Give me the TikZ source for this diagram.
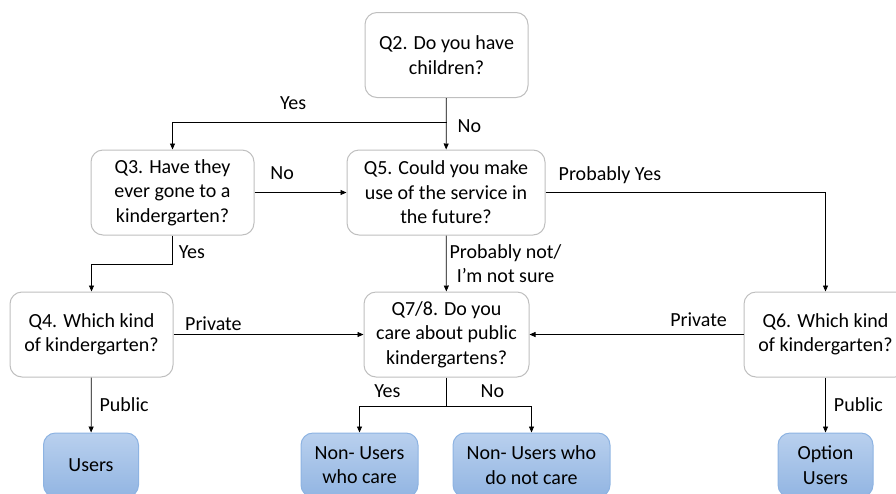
\documentclass[tikz,border=0pt]{standalone}
\usepackage{fontspec}
\setmainfont{Carlito}
\usepackage{xcolor}
\usetikzlibrary{arrows.meta, calc}

\definecolor{boxgray}{HTML}{BFBFBF}
\definecolor{bluetop}{HTML}{B9D0EE}
\definecolor{bluebot}{HTML}{92B5E2}
\definecolor{blueline}{HTML}{8DB3E2}

\begin{document}
\begin{tikzpicture}[x=1pt, y=-1pt,
		every node/.style = {font = \fontsize{20}{24.5}\selectfont, inner sep = 3pt},
		qbox/.style = {draw = boxgray, line width = 1pt, rounded corners = 12pt, align = center, minimum height = 85pt},
		endbox/.style = {draw = blueline, line width = 1pt, top color = bluetop, bottom color = bluebot, rounded corners = 12pt, align = center, minimum height = 64pt},
		arr/.style = {line width = 0.8pt, -{Triangle[length = 6pt, width = 5pt]}},
		ln/.style = {line width = 0.8pt}]
		\def\W{163};
		
		\clip (0,0) rectangle (896,493);
		
		\node [qbox, minimum width = \W] (q2) at (446.5,55) {Q2. Do you have\\children?};
		\node [qbox, minimum width = \W] (q3) at (172.5,192.5) {Q3. Have they\\ever gone to a\\kindergarten?};
		\node [qbox, minimum width = 198] (q5) at (446,192.5) {Q5. Could you make\\use of the service in\\the future?};
		\node [qbox, minimum width = \W] (q4) at (91.5,334.5) {Q4. Which kind\\of kindergarten?};
		\node [qbox, minimum width = 165] (q7) at (446.5,334.5) {Q7/8. Do you\\care about public\\kindergartens?};
		\node [qbox, minimum width = \W] (q6) at (825.5,334.5) {Q6. Which kind\\of kindergarten?};
		
		\node [endbox, minimum width = 95] (users) at (91,465) {Users};
		\node [endbox, minimum width = 117] (care) at (359.5,465) {Non- Users\\who care};
		\node [endbox, minimum width = 157] (nocare) at (531.5,465) {Non- Users who\\do not care};
		\node [endbox, minimum width = 95] (option) at (825.5,465) {Option\\Users};
		
		\coordinate (s1) at ($(q2.south) + (0,24)$);
		\coordinate (s2) at ($(q7.south) + (0,29)$);
		
		\draw [arr] (q2) -- (q5) node [midway, right = 8pt, yshift = -2pt] {No};
		\draw [arr] (s1) -| (q3) node [pos = 0.28, above = 9pt] {Yes};
		\draw [arr] (q3) -- (q5) node [pos = 0.3, above = 9pt] {No};
		\draw [arr] (q3.south) -- ++(0,29) node [midway, right = 3pt, yshift = -2pt] {Yes} -| (q4.north);
		\draw [arr] (q5) -- (q7) node [midway, right, align = center] {Probably not/\\I’m not sure};
		\draw [arr] (q5) -| (q6) node [pos = 0.115, above = 5pt] {Probably Yes};
		\draw [arr] (q4) -- (q7) node [pos = 0.21, above] {Private};
		\draw [arr] (q6) -- (q7) node [pos = 0.21, above = 4pt] {Private};
		\draw [arr] (q4) -- (users) node [midway, right = 5pt] {Public};
		\draw [arr] (q6) -- (option) node [midway, right = 5pt] {Public};
		\draw [ln] (q7) -- (s2);
		\draw [arr] (s2) -| (care) node [pos = 0.34, above = 5pt] {Yes};
		\draw [arr] (s2) -| (nocare) node [pos = 0.27, above = 5pt] {No};
	\end{tikzpicture}
\end{document}
